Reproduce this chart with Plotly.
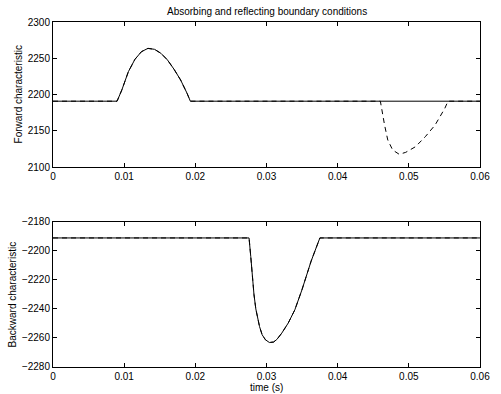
import plotly.graph_objects as go

# ---- data ----
# Forward characteristic, absorbing boundary (solid)
fwd_abs_t = [0.0, 0.0090, 0.00967, 0.01059, 0.01151, 0.01242, 0.01334, 0.01426,
             0.01517, 0.01609, 0.01701, 0.01793, 0.01884, 0.0193, 0.06]
fwd_abs_v = [2191, 2191, 2206.4, 2231.6, 2248.6, 2259.1, 2263.7, 2262.4,
             2256.9, 2247.7, 2234.9, 2220.2, 2201.8, 2191, 2191]

# Forward characteristic, reflecting boundary (dashed)
fwd_ref_t = [0.0, 0.0090, 0.00967, 0.01059, 0.01151, 0.01242, 0.01334, 0.01426,
             0.01517, 0.01609, 0.01701, 0.01793, 0.01884, 0.0193,
             0.0460, 0.04612, 0.04659, 0.04704, 0.04773, 0.04865, 0.04956,
             0.05094, 0.05231, 0.05369, 0.05506, 0.0555, 0.06]
fwd_ref_v = [2191, 2191, 2206.4, 2231.6, 2248.6, 2259.1, 2263.7, 2262.4,
             2256.9, 2247.7, 2234.9, 2220.2, 2201.8, 2191,
             2191, 2183.4, 2158.2, 2137.6, 2123.8, 2117.9, 2120.6,
             2128.4, 2142.1, 2158.2, 2181.2, 2191, 2191]

# Backward characteristic (both cases coincide)
bwd_t = [0.0, 0.02755, 0.02779, 0.02801, 0.02824, 0.02850, 0.02875, 0.02902,
         0.02939, 0.02985, 0.03040, 0.03099, 0.03146, 0.03215, 0.03305,
         0.03398, 0.03498, 0.03627, 0.0375, 0.06]
bwd_v = [-2191, -2191, -2203.9, -2218.0, -2230.0, -2240.0, -2247.0, -2252.1,
         -2257.8, -2261.2, -2263.1, -2262.8, -2261.0, -2256.6, -2249.7,
         -2240.6, -2226.8, -2207.0, -2191, -2191]

x_ticks = [0, 0.01, 0.02, 0.03, 0.04, 0.05, 0.06]
x_labels = ["0", "0.01", "0.02", "0.03", "0.04", "0.05", "0.06"]
top_yticks = [2100, 2150, 2200, 2250, 2300]
bot_yticks = [-2280, -2260, -2240, -2220, -2200, -2180]

FONT = "Liberation Sans, Arial, Helvetica, sans-serif"

fig = go.Figure()
solid = dict(color="black", width=1.0)
dashed = dict(color="black", width=1.0, dash="5px,4px")

fig.add_trace(go.Scatter(x=fwd_abs_t, y=fwd_abs_v, mode="lines", line=solid,
                         xaxis="x", yaxis="y", showlegend=False))
fig.add_trace(go.Scatter(x=fwd_ref_t, y=fwd_ref_v, mode="lines", line=dashed,
                         xaxis="x", yaxis="y", showlegend=False))
fig.add_trace(go.Scatter(x=bwd_t, y=bwd_v, mode="lines", line=solid,
                         xaxis="x2", yaxis="y2", showlegend=False))
fig.add_trace(go.Scatter(x=bwd_t, y=bwd_v, mode="lines", line=dashed,
                         xaxis="x2", yaxis="y2", showlegend=False))

ax_common = dict(showline=True, linecolor="black", linewidth=1, mirror="ticks",
                 ticks="inside", ticklen=4, tickcolor="black", tickwidth=1,
                 showgrid=False, zeroline=False,
                 tickfont=dict(family=FONT, size=10, color="black"))

fig.update_layout(
    width=501, height=394,
    margin=dict(l=53, r=11, t=22, b=27),
    paper_bgcolor="white", plot_bgcolor="white",
    xaxis=dict(domain=[0, 1], anchor="y", range=[0, 0.06],
               tickvals=x_ticks, ticktext=x_labels, **ax_common),
    yaxis=dict(domain=[0.5788, 1], anchor="x", range=[2100, 2300],
               tickvals=top_yticks, **ax_common),
    xaxis2=dict(domain=[0, 1], anchor="y2", range=[0, 0.06],
                tickvals=x_ticks, ticktext=x_labels, **ax_common),
    yaxis2=dict(domain=[0, 0.4203], anchor="x2", range=[-2280, -2180],
                tickvals=bot_yticks, **ax_common),
    annotations=[
        dict(text="Absorbing and reflecting boundary conditions", xref="paper", yref="paper",
             x=0.5, y=1 + 11 / 345, xanchor="center", yanchor="middle", showarrow=False,
             font=dict(family=FONT, size=10, color="black")),
        dict(text="Forward characteristic", xref="paper", yref="paper",
             x=(18 - 53) / 437, y=(0.5788 + 1) / 2, xanchor="center", yanchor="middle",
             textangle=-90, showarrow=False, font=dict(family=FONT, size=10, color="black")),
        dict(text="Backward characteristic", xref="paper", yref="paper",
             x=(12 - 53) / 437, y=0.4203 / 2, xanchor="center", yanchor="middle",
             textangle=-90, showarrow=False, font=dict(family=FONT, size=10, color="black")),
        dict(text="time (s)", xref="paper", yref="paper",
             x=0.5, y=-20.7 / 345, xanchor="center", yanchor="middle",
             showarrow=False, font=dict(family=FONT, size=10, color="black")),
    ],
)

fig.write_html("out.html")
